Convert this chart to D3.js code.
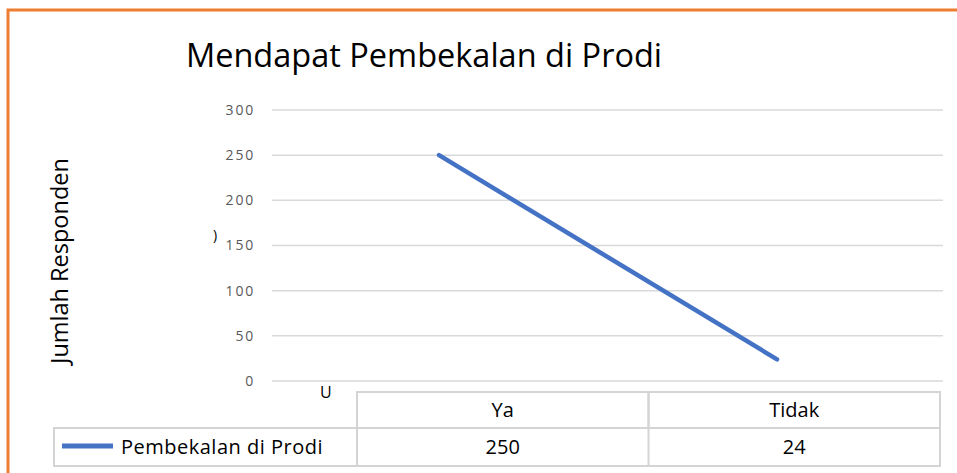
<!DOCTYPE html>
<html>
<head>
<meta charset="utf-8">
<script src="https://cdn.jsdelivr.net/npm/d3@7"></script>
<style>
  body { margin: 0; background: #fff; }
  svg { display: block; }
</style>
</head>
<body>
<svg id="chart" width="957" height="473"></svg>
<script>
const categories = ["Ya", "Tidak"];
const values = [250, 24];
const seriesName = "Pembekalan di Prodi";
const yTicks = [0, 50, 100, 150, 200, 250, 300];
const title = "Mendapat Pembekalan di Prodi";
const yTitle = "Jumlah Responden";

const FONT = "'Open Sans', 'Noto Sans', sans-serif";
const BLUE = "#4472C4";
const GRID = "#d9d9d9";
const TABLE = "#d4d4d4";

const svg = d3.select("#chart");

// orange frame (left and top edges visible)
svg.append("path")
  .attr("d", "M8,473 L8,10 L957,10")
  .attr("fill", "none")
  .attr("stroke", "#ED7D31")
  .attr("stroke-width", 3);

// title
svg.append("text")
  .attr("x", 424)
  .attr("y", 67)
  .attr("text-anchor", "middle")
  .attr("font-family", FONT)
  .attr("font-size", 32.5)
  .attr("fill", "#000")
  .text(title);

// scales
const y = d3.scaleLinear().domain([0, 300]).range([381, 110]);
const x = d3.scalePoint().domain(categories).range([439, 777]);
const plotLeft = 272, plotRight = 943;

// gridlines
svg.append("g")
  .selectAll("line")
  .data(yTicks)
  .enter()
  .append("line")
  .attr("x1", plotLeft)
  .attr("x2", plotRight)
  .attr("y1", d => y(d))
  .attr("y2", d => y(d))
  .attr("stroke", GRID)
  .attr("stroke-width", 1.5);

// y tick labels
svg.append("g")
  .selectAll("text")
  .data(yTicks)
  .enter()
  .append("text")
  .attr("x", 255)
  .attr("y", d => y(d))
  .attr("dy", "0.35em")
  .attr("text-anchor", "end")
  .attr("font-family", FONT)
  .attr("font-size", 14)
  .attr("letter-spacing", 1.8)
  .attr("fill", "#595959")
  .text(d => d);

// y axis title
svg.append("text")
  .attr("transform", `translate(68, 261) rotate(-90)`)
  .attr("text-anchor", "middle")
  .attr("font-family", FONT)
  .attr("font-size", 23.5)
  .attr("fill", "#000")
  .text(yTitle);

// stray clipped glyphs from the original
svg.append("text")
  .attr("x", 213).attr("y", 240)
  .attr("font-family", FONT).attr("font-size", 14)
  .text(")");
svg.append("text")
  .attr("x", 320).attr("y", 398)
  .attr("font-family", FONT).attr("font-size", 16)
  .text("U");

// series line
const line = d3.line()
  .x((d, i) => x(categories[i]))
  .y(d => y(d));

svg.append("path")
  .attr("d", line(values))
  .attr("fill", "none")
  .attr("stroke", BLUE)
  .attr("stroke-width", 4.5)
  .attr("stroke-linecap", "round");

// data table
const colX = d3.scaleBand().domain(categories).range([357, 940]);
const tableLeft = 54, headTop = 392, rowMid = 428, rowBottom = 466;

const tbl = svg.append("g")
  .attr("stroke", TABLE)
  .attr("stroke-width", 2)
  .attr("fill", "none");

// header cells
tbl.selectAll("rect.head")
  .data(categories)
  .enter()
  .append("rect")
  .attr("class", "head")
  .attr("x", d => colX(d))
  .attr("y", headTop)
  .attr("width", colX.bandwidth())
  .attr("height", rowMid - headTop);

// value row
tbl.append("rect")
  .attr("x", tableLeft)
  .attr("y", rowMid)
  .attr("width", 940 - tableLeft)
  .attr("height", rowBottom - rowMid);

tbl.selectAll("line.sep")
  .data(categories)
  .enter()
  .append("line")
  .attr("x1", d => colX(d))
  .attr("x2", d => colX(d))
  .attr("y1", rowMid)
  .attr("y2", rowBottom);

svg.append("g")
  .selectAll("text")
  .data(categories)
  .enter()
  .append("text")
  .attr("x", d => colX(d) + colX.bandwidth() / 2)
  .attr("y", (headTop + rowMid) / 2)
  .attr("dy", "0.35em")
  .attr("text-anchor", "middle")
  .attr("font-family", FONT)
  .attr("font-size", 20)
  .attr("fill", "#000")
  .text(d => d);

svg.append("g")
  .selectAll("text")
  .data(values)
  .enter()
  .append("text")
  .attr("x", (d, i) => colX(categories[i]) + colX.bandwidth() / 2)
  .attr("y", (rowMid + rowBottom) / 2)
  .attr("dy", "0.35em")
  .attr("text-anchor", "middle")
  .attr("font-family", FONT)
  .attr("font-size", 20)
  .attr("fill", "#000")
  .text(d => d);

// legend key in table
svg.append("line")
  .attr("x1", 62).attr("x2", 113)
  .attr("y1", 446).attr("y2", 446)
  .attr("stroke", BLUE)
  .attr("stroke-width", 5);

svg.append("text")
  .attr("x", 121)
  .attr("y", (rowMid + rowBottom) / 2)
  .attr("dy", "0.35em")
  .attr("font-family", FONT)
  .attr("font-size", 20)
  .attr("letter-spacing", 0.5)
  .attr("fill", "#000")
  .text(seriesName);
</script>
</body>
</html>
